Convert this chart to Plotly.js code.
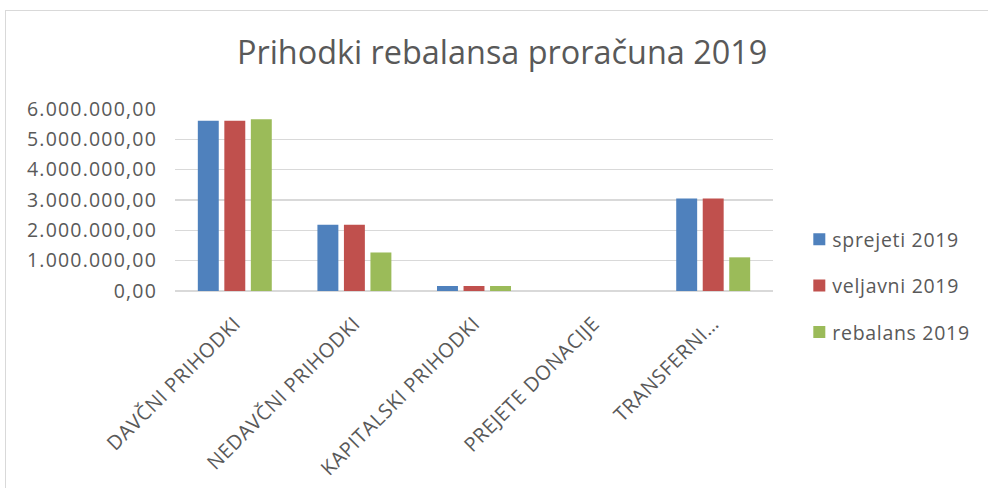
<!DOCTYPE html>
<html>
<head>
<meta charset="utf-8">
<script src="https://cdn.plot.ly/plotly-3.0.1.min.js"></script>
<style>
  html, body { margin: 0; padding: 0; background: #fff; overflow: hidden; }
  #frame { position: absolute; left: 5px; top: 10px; width: 1000px; height: 500px; border: 1px solid #d9d9d9; box-sizing: border-box; }
  #chart { position: absolute; left: 0; top: 0; width: 988px; height: 488px; }
  #chart .ytick text { letter-spacing: 1.2px; }
  #chart .xtick text { letter-spacing: 0.6px; }
  #chart .legendtext { letter-spacing: 0.7px; transform: translateX(-7px); }
</style>
</head>
<body>
<div id="frame"></div>
<div id="chart"></div>
<script>
const categories = ["DAVČNI PRIHODKI", "NEDAVČNI PRIHODKI", "KAPITALSKI PRIHODKI", "PREJETE DONACIJE", "TRANSFERNI…"];
const seriesNames = ["sprejeti 2019", "veljavni 2019", "rebalans 2019"];
const sprejeti = [5610000, 2180000, 165000, 0, 3050000];
const veljavni = [5610000, 2180000, 165000, 0, 3050000];
const rebalans = [5660000, 1270000, 165000, 0, 1110000];
const colors = ["#4f81bd", "#c0504d", "#9bbb59"];
const tickVals = [0, 1000000, 2000000, 3000000, 4000000, 5000000, 6000000];

const font = "Open Sans, Noto Sans, Liberation Sans, sans-serif";
const data = [sprejeti, veljavni, rebalans].map((vals, i) => ({
  type: "bar",
  name: seriesNames[i],
  legendgroup: "g" + i,
  x: categories,
  y: vals,
  marker: { color: colors[i] },
  hoverinfo: "skip"
}));

const layout = {
  width: 988, height: 488,
  margin: { l: 175, r: 215, t: 109, b: 197 },
  paper_bgcolor: "rgba(0,0,0,0)",
  plot_bgcolor: "rgba(0,0,0,0)",
  separators: ",.",
  bargap: 0.335,
  bargroupgap: 0.21,
  title: {
    text: "Prihodki rebalansa proračuna 2019",
    font: { family: font, size: 32.4, color: "#595959" },
    x: 0.547, xref: "paper", xanchor: "center",
    y: 0.893, yanchor: "middle"
  },
  xaxis: {
    type: "category",
    tickangle: -45,
    tickfont: { family: font, size: 20, color: "#595959" },
    ticklabelstandoff: 16,
    showline: false, ticks: "", showgrid: false
  },
  yaxis: {
    range: [0, 6000000],
    tickvals: tickVals,
    tickformat: ",.2f",
    tickfont: { family: font, size: 19.5, color: "#595959" },
    ticklabelstandoff: 17,
    gridcolor: "#d9d9d9", gridwidth: 1.3,
    zeroline: true, zerolinecolor: "#d9d9d9", zerolinewidth: 1.3,
    showline: false, ticks: "", ticklen: 0
  },
  legend: {
    x: 1.044, xanchor: "left", y: 0.027, yanchor: "middle",
    traceorder: "grouped",
    font: { family: font, size: 19.5, color: "#595959" },
    tracegroupgap: 18, itemwidth: 30,
    bgcolor: "rgba(0,0,0,0)"
  },
  showlegend: true
};

Plotly.newPlot("chart", data, layout, { staticPlot: true, displayModeBar: false });
</script>
</body>
</html>
